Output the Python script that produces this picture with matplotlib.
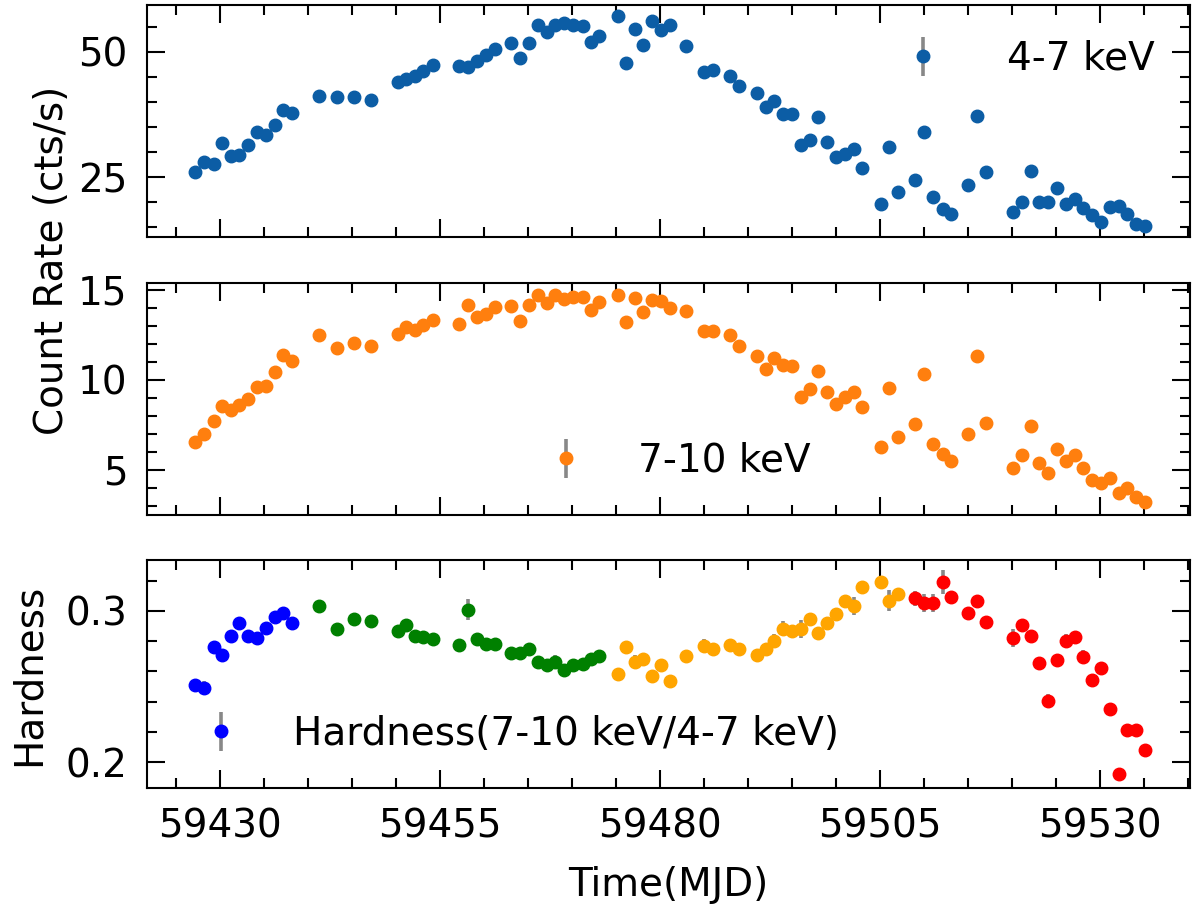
import numpy as np
import matplotlib
matplotlib.use("Agg")
import matplotlib.pyplot as plt
from matplotlib.ticker import MultipleLocator

# observation times (MJD)
mjd = [59427.2, 59428.2, 59429.3, 59430.2, 59431.2, 59432.2, 59433.2, 59434.2, 59435.2, 59436.2,
       59437.2, 59438.2, 59441.2, 59443.3, 59445.2, 59447.2, 59450.2, 59451.1, 59452.2, 59453.1,
       59454.2, 59457.2, 59458.2, 59459.2, 59460.2, 59461.2, 59463.1, 59464.1, 59465.1, 59466.1,
       59467.1, 59468.1, 59469.1, 59470.1, 59471.2, 59472.1, 59473.1, 59475.2, 59476.1, 59477.2,
       59478.1, 59479.1, 59480.1, 59481.1, 59483.0, 59485.0, 59486.0, 59488.0, 59489.0, 59491.0,
       59492.0, 59493.0, 59494.0, 59495.0, 59496.0, 59497.0, 59498.0, 59499.0, 59500.0, 59501.0,
       59502.0, 59503.0, 59505.1, 59506.0, 59507.0, 59509.0, 59510.0, 59511.0, 59512.1, 59513.1,
       59515.0, 59516.0, 59517.0, 59520.1, 59521.1, 59522.1, 59523.1, 59524.1, 59525.1, 59526.1,
       59527.1, 59528.1, 59529.1, 59530.1, 59531.1, 59532.1, 59533.1, 59534.1, 59535.1]

# 4-7 keV count rate
rate_soft = [26.1, 28.1, 27.7, 31.7, 29.3, 29.4, 31.4, 33.9, 33.4, 35.3,
             38.3, 37.7, 41.1, 40.9, 40.9, 40.4, 43.9, 44.5, 45.1, 46.2,
             47.3, 47.2, 46.9, 48.1, 49.3, 50.6, 51.7, 48.7, 51.7, 55.3,
             53.9, 55.4, 55.7, 55.4, 55.1, 51.9, 53.1, 57.1, 47.7, 54.6,
             51.4, 56.2, 54.4, 55.4, 51.2, 45.9, 46.3, 45.1, 43.2, 41.7,
             38.9, 40.1, 37.6, 37.6, 31.4, 32.3, 36.9, 31.9, 29.1, 29.6,
             30.7, 26.9, 19.6, 31.1, 22.0, 24.4, 33.9, 21.1, 18.6, 17.7,
             23.4, 37.1, 26.1, 18.1, 20.1, 26.3, 20.1, 20.1, 22.9, 19.6,
             20.6, 18.9, 17.4, 16.1, 19.1, 19.2, 17.7, 15.7, 15.2]
err_soft = [0.5, 0.5, 0.5, 0.6, 0.5, 0.5, 0.6, 0.6, 0.6, 0.6,
            0.6, 0.6, 0.7, 0.6, 0.6, 0.6, 0.7, 0.7, 0.7, 0.7,
            0.7, 0.7, 0.7, 0.7, 0.7, 0.7, 0.7, 0.7, 0.7, 0.8,
            0.7, 0.8, 0.8, 0.8, 0.8, 0.7, 0.7, 0.8, 0.7, 0.7,
            0.7, 0.8, 0.7, 0.8, 0.7, 0.7, 0.7, 0.7, 0.7, 0.6,
            0.6, 0.6, 0.6, 0.6, 0.6, 0.6, 0.6, 0.6, 0.5, 0.5,
            0.6, 0.5, 0.5, 0.6, 0.5, 0.5, 0.6, 0.5, 0.5, 0.5,
            0.5, 0.6, 0.5, 0.5, 0.5, 0.5, 0.5, 0.5, 0.5, 0.5,
            0.5, 0.5, 0.5, 0.4, 0.5, 0.5, 0.5, 0.4, 0.4]

# 7-10 keV count rate
rate_hard = [6.54, 6.98, 7.69, 8.57, 8.33, 8.61, 8.93, 9.59, 9.67, 10.46,
             11.39, 11.02, 12.50, 11.76, 12.04, 11.85, 12.56, 12.93, 12.74, 13.02,
             13.30, 13.11, 14.13, 13.48, 13.67, 14.04, 14.07, 13.24, 14.17, 14.68,
             14.26, 14.68, 14.50, 14.59, 14.59, 13.85, 14.30, 14.68, 13.19, 14.54,
             13.76, 14.41, 14.35, 13.98, 13.80, 12.72, 12.72, 12.46, 11.85, 11.30,
             10.61, 11.20, 10.80, 10.74, 9.02, 9.50, 10.50, 9.30, 8.65, 9.07,
             9.30, 8.48, 6.26, 9.54, 6.85, 7.56, 10.31, 6.44, 5.89, 5.50,
             7.00, 11.30, 7.63, 5.09, 5.83, 7.46, 5.37, 4.81, 6.17, 5.52,
             5.83, 5.13, 4.44, 4.30, 4.54, 3.70, 3.98, 3.48, 3.20]
err_hard = [0.20, 0.20, 0.20, 0.22, 0.22, 0.22, 0.22, 0.23, 0.23, 0.24,
            0.25, 0.25, 0.26, 0.25, 0.26, 0.25, 0.26, 0.26, 0.26, 0.26,
            0.27, 0.27, 0.28, 0.27, 0.27, 0.28, 0.28, 0.27, 0.28, 0.28,
            0.28, 0.28, 0.28, 0.28, 0.28, 0.27, 0.28, 0.28, 0.27, 0.28,
            0.27, 0.28, 0.28, 0.28, 0.27, 0.26, 0.26, 0.26, 0.25, 0.25,
            0.24, 0.25, 0.24, 0.24, 0.22, 0.23, 0.24, 0.23, 0.22, 0.22,
            0.23, 0.22, 0.19, 0.23, 0.20, 0.21, 0.24, 0.19, 0.18, 0.18,
            0.20, 0.25, 0.21, 0.17, 0.18, 0.20, 0.17, 0.17, 0.19, 0.18,
            0.18, 0.17, 0.16, 0.16, 0.16, 0.15, 0.15, 0.14, 0.14]

# hardness ratio (7-10 keV / 4-7 keV)
hardness = [0.2511, 0.2493, 0.2760, 0.2709, 0.2835, 0.2919, 0.2835, 0.2820, 0.2886, 0.2958,
            0.2985, 0.2919, 0.3035, 0.2879, 0.2947, 0.2936, 0.2870, 0.2907, 0.2835, 0.2826,
            0.2813, 0.2775, 0.3007, 0.2813, 0.2780, 0.2780, 0.2720, 0.2720, 0.2747, 0.2661,
            0.2639, 0.2665, 0.2610, 0.2639, 0.2650, 0.2681, 0.2703, 0.2584, 0.2764, 0.2665,
            0.2683, 0.2566, 0.2643, 0.2533, 0.2703, 0.2771, 0.2749, 0.2775, 0.2749, 0.2709,
            0.2749, 0.2804, 0.2881, 0.2870, 0.2881, 0.2947, 0.2853, 0.2919, 0.2980, 0.3068,
            0.3033, 0.3157, 0.3190, 0.3068, 0.3110, 0.3084, 0.3051, 0.3051, 0.3190, 0.3091,
            0.2985, 0.3068, 0.2925, 0.2820, 0.2907, 0.2835, 0.2658, 0.2407, 0.2672, 0.2804,
            0.2830, 0.2698, 0.2544, 0.2621, 0.2352, 0.1923, 0.2209, 0.2213, 0.2081]
err_hr = [0.004, 0.004, 0.004, 0.004, 0.004, 0.004, 0.004, 0.004, 0.004, 0.004,
          0.004, 0.004, 0.004, 0.004, 0.004, 0.004, 0.004, 0.004, 0.004, 0.004,
          0.004, 0.004, 0.007, 0.004, 0.004, 0.004, 0.004, 0.004, 0.004, 0.004,
          0.004, 0.004, 0.004, 0.004, 0.004, 0.004, 0.004, 0.004, 0.004, 0.004,
          0.004, 0.004, 0.004, 0.004, 0.004, 0.004, 0.004, 0.004, 0.004, 0.004,
          0.004, 0.004, 0.005, 0.004, 0.006, 0.004, 0.004, 0.004, 0.004, 0.004,
          0.006, 0.004, 0.004, 0.007, 0.004, 0.005, 0.006, 0.006, 0.008, 0.004,
          0.004, 0.004, 0.004, 0.006, 0.004, 0.004, 0.004, 0.004, 0.004, 0.004,
          0.004, 0.004, 0.004, 0.004, 0.004, 0.004, 0.004, 0.004, 0.004]

# hardness phases: boundaries (MJD) and colours
phase_edges = [59440, 59474, 59508]
phase_colors = ["blue", "green", "orange", "red"]

labels = ["4-7 keV", "7-10 keV", "Hardness(7-10 keV/4-7 keV)"]

plt.rcParams["font.family"] = "DejaVu Sans"
plt.rcParams["font.size"] = 28

mjd = np.array(mjd)
hardness = np.array(hardness)
err_hr = np.array(err_hr)

fig = plt.figure(figsize=(12, 9.18), dpi=100)
ax1 = fig.add_axes([0.1225, 0.7418, 0.869, 0.2528])
ax2 = fig.add_axes([0.1225, 0.4390, 0.869, 0.2527], sharex=ax1)
ax3 = fig.add_axes([0.1225, 0.1416, 0.869, 0.2484], sharex=ax1)

ekw = dict(fmt="o", ms=9, ecolor="#888888", elinewidth=2.6, capsize=0)
ax1.errorbar(mjd, rate_soft, yerr=err_soft, color="#0C5DA5", label=labels[0], **ekw)
ax2.errorbar(mjd, rate_hard, yerr=err_hard, color="#ff7f0e", label=labels[1], **ekw)

phase = np.digitize(mjd, phase_edges)
for i, c in enumerate(phase_colors):
    m = phase == i
    ax3.errorbar(mjd[m], hardness[m], yerr=err_hr[m], color=c,
                 label=labels[2] if i == 0 else None, **ekw)

ax1.set_ylim(13, 59.4)
ax1.yaxis.set_major_locator(MultipleLocator(25))
ax1.yaxis.set_minor_locator(MultipleLocator(5))
ax2.set_ylim(2.5, 15.37)
ax2.yaxis.set_major_locator(MultipleLocator(5))
ax2.yaxis.set_minor_locator(MultipleLocator(1))
ax3.set_ylim(0.1828, 0.3337)
ax3.yaxis.set_major_locator(MultipleLocator(0.1))
ax3.yaxis.set_minor_locator(MultipleLocator(0.02))
ax3.set_xlim(59421.7, 59540.2)
ax3.xaxis.set_major_locator(MultipleLocator(25, offset=5))
ax3.xaxis.set_minor_locator(MultipleLocator(5))

for ax in (ax1, ax2, ax3):
    for s in ax.spines.values():
        s.set_linewidth(1.5)
    ax.tick_params(which="both", direction="in", top=True, right=True, width=1.5)
    ax.tick_params(which="major", length=13, pad=14)
    ax.tick_params(which="minor", length=7)
for ax in (ax1, ax2):
    ax.tick_params(labelbottom=False)

ax1.legend(loc="upper right", frameon=False, handletextpad=1.15)
ax2.legend(loc="lower center", frameon=False, handletextpad=0.85)
ax3.legend(loc="lower left", frameon=False, handletextpad=0.85)

fig.text(0.043, 0.7168, "Count Rate (cts/s)", rotation=90, ha="center", va="center")
fig.text(0.024, 0.2647, "Hardness", rotation=90, ha="center", va="center")
fig.text(0.557, 0.036, "Time(MJD)", ha="center", va="center")

fig.savefig("out.png", dpi=100)
